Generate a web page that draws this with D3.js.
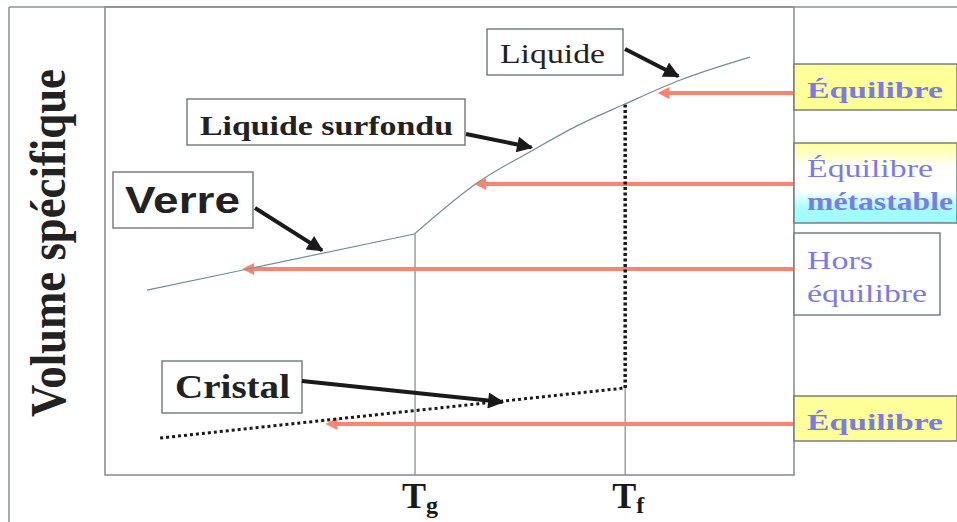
<!DOCTYPE html>
<html>
<head>
<meta charset="utf-8">
<script src="https://cdn.jsdelivr.net/npm/d3@7"></script>
<style>
  body { margin: 0; background: #fff; }
  svg text { font-family: "Liberation Serif", "Times New Roman", serif; }
</style>
</head>
<body>
<div id="chart"></div>
<script>
// data in arbitrary units: temperature 0-100, specific volume 0-100
var glassT = [6.1, 44.9];
var glassV = [39.5, 51.5];
var liquidT = [44.9, 54.0, 62.1, 68.5, 75.2, 83.5, 93.6];
var liquidV = [51.5, 62.4, 69.4, 74.6, 79.1, 84.4, 89.3];
var crystalT = [8.0, 75.5];
var crystalV = [7.9, 18.6];
var Tg = 45.0;
var Tf = 75.5;
var tickNames = ["g", "f"];
// red arrows: level, tip temperature
var arrowLevels = [81.6, 62.2, 44.0, 10.9];
var arrowTips = [80.6, 54.0, 20.3, 32.4];

function chart(){
    var w = 957;
    var h = 522;
    var left = 105, right = 794, top = 7, bottom = 475;

    var xScale = d3.scaleLinear().domain([0,100]).range([left,right]);
    var yScale = d3.scaleLinear().domain([0,100]).range([bottom,top]);

    var svg = d3.select("#chart")
                .append("svg")
                .attr("width",w)
                .attr("height",h);

    var defs = svg.append("defs");
    defs.append("marker")
        .attr("id","blackHead")
        .attr("viewBox","0 0 10 10")
        .attr("refX",9).attr("refY",5)
        .attr("markerWidth",5).attr("markerHeight",4)
        .attr("markerUnits","strokeWidth")
        .attr("orient","auto")
        .append("path").attr("d","M0,0 L10,5 L0,10 Z").attr("fill","#1a1a1a");
    defs.append("marker")
        .attr("id","redHead")
        .attr("viewBox","0 0 10 10")
        .attr("refX",1).attr("refY",5)
        .attr("markerWidth",4).attr("markerHeight",3)
        .attr("markerUnits","strokeWidth")
        .attr("orient","auto")
        .append("path").attr("d","M0,0 L10,5 L0,10 Z").attr("fill","#ff8373");

    var grad = defs.append("linearGradient")
        .attr("id","metaGrad").attr("x1",0).attr("y1",0).attr("x2",0).attr("y2",1);
    grad.append("stop").attr("offset","0%").attr("stop-color","#ffff99");
    grad.append("stop").attr("offset","30%").attr("stop-color","#ffffff");
    grad.append("stop").attr("offset","60%").attr("stop-color","#ffffff");
    grad.append("stop").attr("offset","80%").attr("stop-color","#a8ffff");
    grad.append("stop").attr("offset","100%").attr("stop-color","#99ffff");

    var frame = "#8a9090";
    // outer frame
    svg.append("line").attr("x1",9).attr("y1",7).attr("x2",w).attr("y2",7)
        .attr("stroke",frame).attr("stroke-width",1.5);
    svg.append("line").attr("x1",9).attr("y1",7).attr("x2",9).attr("y2",h)
        .attr("stroke",frame).attr("stroke-width",1.5);
    // plot frame
    svg.append("rect").attr("x",left).attr("y",top)
        .attr("width",right-left).attr("height",bottom-top)
        .attr("fill","none").attr("stroke",frame).attr("stroke-width",1.6);

    // x axis ticks Tg, Tf (no tick marks, labels drawn below)
    var xAxis = d3.axisBottom(xScale).tickValues([Tg,Tf]).tickSize(0).tickFormat("");
    svg.append("g").attr("transform","translate(0,"+bottom+")").call(xAxis)
        .select(".domain").remove();

    // vertical guide lines
    svg.append("line")
        .attr("x1",xScale(Tg)).attr("x2",xScale(Tg))
        .attr("y1",yScale(glassV[1])).attr("y2",yScale(0))
        .attr("stroke","#7d8a8a").attr("stroke-width",1.2);
    svg.append("line")
        .attr("x1",xScale(Tf)).attr("x2",xScale(Tf))
        .attr("y1",yScale(crystalV[1])).attr("y2",yScale(0))
        .attr("stroke","#7d8a8a").attr("stroke-width",1.2);

    // tick labels
    [Tg,Tf].forEach(function(t,i){
        var tx = svg.append("text")
            .attr("x",xScale(t)-13).attr("y",508)
            .style("font-weight","bold")
            .attr("fill","#1a1a1a");
        tx.append("tspan").style("font-size","36px").text("T");
        tx.append("tspan").attr("dy",5).style("font-size","24px").text(tickNames[i]);
    });

    // red arrows
    arrowLevels.forEach(function(v,i){
        svg.append("line")
            .attr("x1",xScale(100)).attr("y1",yScale(v))
            .attr("x2",xScale(arrowTips[i])+8).attr("y2",yScale(v))
            .attr("stroke","#ff8373").attr("stroke-width",4)
            .attr("marker-end","url(#redHead)");
    });

    var line = d3.line()
        .x(function(d){ return xScale(d[0]); })
        .y(function(d){ return yScale(d[1]); });

    // glass
    svg.append("path")
        .datum(d3.zip(glassT,glassV))
        .attr("d",line).attr("fill","none")
        .attr("stroke","#6f8f8f").attr("stroke-width",1.2);
    // liquid / supercooled liquid
    svg.append("path")
        .datum(d3.zip(liquidT,liquidV))
        .attr("d",line.curve(d3.curveMonotoneX)).attr("fill","none")
        .attr("stroke","#6f8f8f").attr("stroke-width",1.2);
    line.curve(d3.curveLinear);
    // crystal (dotted)
    svg.append("path")
        .datum(d3.zip(crystalT,crystalV))
        .attr("d",line).attr("fill","none")
        .attr("stroke","#1a1a1a").attr("stroke-width",3)
        .attr("stroke-dasharray","3,3");
    // melting jump (dotted)
    svg.append("path")
        .datum([[Tf,crystalV[1]],[Tf,79.1]])
        .attr("d",line).attr("fill","none")
        .attr("stroke","#1a1a1a").attr("stroke-width",3.5)
        .attr("stroke-dasharray","3,2.5");

    // y label
    svg.append("text")
        .attr("transform","translate(65,243) rotate(-90)")
        .attr("text-anchor","middle")
        .attr("textLength",348).attr("lengthAdjust","spacingAndGlyphs")
        .style("font-size","50px").style("font-weight","bold")
        .attr("fill","#222")
        .text("Volume spécifique");

    // annotation boxes with black arrows
    var notes = [
        {text:"Liquide", x:487, y:29, bw:136, bh:46, size:28, weight:"normal", family:"Liberation Serif",
         tx:500, base:63, len:105, from:[625,49], to:[liquidT[5]-0.3, liquidV[5]+0.8]},
        {text:"Liquide surfondu", x:187, y:99, bw:278, bh:46, size:27, weight:"bold", family:"Liberation Serif",
         tx:200, base:135, len:253, from:[466,134], to:[liquidT[2]-0.2, liquidV[2]+0.6]},
        {text:"Verre", x:113, y:172, bw:140, bh:56, size:36, weight:"bold", family:"Liberation Sans",
         tx:125, base:213, len:115, from:[255,208], to:[31.5, 48.0]},
        {text:"Cristal", x:162, y:361, bw:140, bh:52, size:34, weight:"bold", family:"Liberation Serif",
         tx:175, base:398, len:115, from:[302,381], to:[57.7, 15.6]}
    ];
    notes.forEach(function(n){
        svg.append("rect")
            .attr("x",n.x).attr("y",n.y).attr("width",n.bw).attr("height",n.bh)
            .attr("fill","#fff").attr("stroke","#6f7777").attr("stroke-width",1.4);
        svg.append("text")
            .attr("x",n.tx).attr("y",n.base)
            .attr("textLength",n.len).attr("lengthAdjust","spacingAndGlyphs")
            .style("font-family",n.family)
            .style("font-size",n.size+"px").style("font-weight",n.weight)
            .attr("fill","#222")
            .text(n.text);
        svg.append("line")
            .attr("x1",n.from[0]).attr("y1",n.from[1])
            .attr("x2",xScale(n.to[0])).attr("y2",yScale(n.to[1]))
            .attr("stroke","#1a1a1a").attr("stroke-width",4)
            .attr("marker-end","url(#blackHead)");
    });

    // right-hand state labels
    var blue = "#7b7be6";
    var states = [
        {y:64, h:46, w:163, fill:"#ffff99", lines:[["Équilibre","bold",24,98,136]]},
        {y:143, h:80, w:163, fill:"url(#metaGrad)", lines:[["Équilibre","normal",26,177,126],["métastable","bold",25,210,146]]},
        {y:233, h:82, w:146, fill:"#ffffff", lines:[["Hors","normal",26,269,66],["équilibre","normal",26,302,120]]},
        {y:396, h:45, w:163, fill:"#ffff99", lines:[["Équilibre","bold",24,430,136]]}
    ];
    states.forEach(function(s){
        svg.append("rect")
            .attr("x",right).attr("y",s.y).attr("width",s.w).attr("height",s.h)
            .attr("fill",s.fill).attr("stroke","#6f7777").attr("stroke-width",1.4);
        s.lines.forEach(function(l){
            svg.append("text")
                .attr("x",807).attr("y",l[3])
                .attr("textLength",l[4]).attr("lengthAdjust","spacingAndGlyphs")
                .style("font-size",l[2]+"px").style("font-weight",l[1])
                .attr("fill",blue)
                .text(l[0]);
        });
    });
}

chart();
</script>
</body>
</html>
